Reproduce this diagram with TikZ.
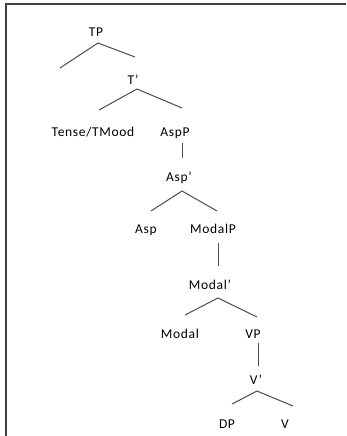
\documentclass[tikz,border=0pt]{standalone}
\usepackage{fontspec}
\setmainfont{Carlito}[LetterSpace=5]
\begin{document}
\begin{tikzpicture}[x=1pt,y=-1pt,
  lbl/.style={anchor=base,inner sep=0pt,text=black,font=\fontsize{13.5}{16}\selectfont},
  branch/.style={draw=black!70,line width=1pt},
  frame/.style={draw=black!75,line width=1.5pt}]
\useasboundingbox (0,0) rectangle (346,436);
\coordinate (fTR) at (346,4);
\coordinate (fTL) at (6,4);
\coordinate (fBL) at (6,436);
\draw[frame] (fTR) -- (fTL) -- (fBL);
% labels
\node[lbl] (TP) at (96,37) {TP};
\node[lbl] (Tb) at (133,84) {T’};
\node[lbl] (TM) at (93,136) {Tense/TMood};
\node[lbl] (AspP) at (175,136) {AspP};
\node[lbl] (Aspb) at (179,181) {Asp’};
\node[lbl] (Asp) at (146,233) {Asp};
\node[lbl] (ModalP) at (213,233) {ModalP};
\node[lbl] (Modalb) at (210,289) {Modal’};
\node[lbl] (Modal) at (180,338) {Modal};
\node[lbl] (VP) at (253,338) {VP};
\node[lbl] (Vb) at (256,384) {V’};
\node[lbl] (DP) at (227,428) {DP};
\node[lbl] (V) at (285,428) {V};
% branch points
\coordinate (a1) at (98,43);  \coordinate (a1l) at (60,68);  \coordinate (a1r) at (135,57);
\coordinate (a2) at (137,89); \coordinate (a2l) at (99,110); \coordinate (a2r) at (182,108);
\coordinate (b1) at (182,143); \coordinate (b1e) at (182,158);
\coordinate (a3) at (182,191); \coordinate (a3l) at (151,211); \coordinate (a3r) at (217,211);
\coordinate (b2) at (218,243); \coordinate (b2e) at (218,266);
\coordinate (a4) at (218,298); \coordinate (a4l) at (185,315); \coordinate (a4r) at (257,317);
\coordinate (b3) at (258,343); \coordinate (b3e) at (258,366);
\coordinate (a5) at (257,391); \coordinate (a5l) at (232,404); \coordinate (a5r) at (293,406);
\draw[branch] (a1l) -- (a1) -- (a1r);
\draw[branch] (a2l) -- (a2) -- (a2r);
\draw[branch] (b1) -- (b1e);
\draw[branch] (a3l) -- (a3) -- (a3r);
\draw[branch] (b2) -- (b2e);
\draw[branch] (a4l) -- (a4) -- (a4r);
\draw[branch] (b3) -- (b3e);
\draw[branch] (a5l) -- (a5) -- (a5r);
\end{tikzpicture}
\end{document}
